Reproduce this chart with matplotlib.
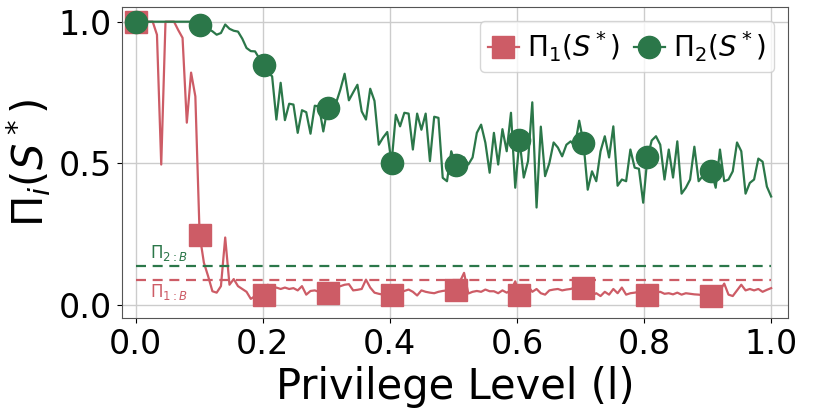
import numpy as np
import matplotlib
matplotlib.use("Agg")
from matplotlib import pyplot as plt

# privilege level grid (150 points) and the two curves
level = np.linspace(0, 1, 150)

pi_1 = [1.0, 1.0, 1.0, 1.0, 1.0, 0.954, 0.495, 1.0, 1.0, 1.0,
        0.97, 0.943, 0.643, 0.82, 0.736, 0.247, 0.148, 0.10, 0.047, 0.042,
        0.065, 0.237, 0.07, 0.09, 0.065, 0.055, 0.045, 0.02, 0.03, 0.035,
        0.035, 0.07, 0.053, 0.06, 0.055, 0.06, 0.055, 0.058, 0.05, 0.065,
        0.035, 0.048, 0.05, 0.045, 0.04, 0.042, 0.05, 0.06, 0.065, 0.07,
        0.072, 0.05, 0.052, 0.055, 0.088, 0.06, 0.042, 0.038, 0.035, 0.036,
        0.035, 0.04, 0.043, 0.048, 0.053, 0.045, 0.032, 0.05, 0.045, 0.042,
        0.04, 0.045, 0.048, 0.05, 0.05, 0.05, 0.08, 0.112, 0.039, 0.045,
        0.048, 0.045, 0.053, 0.047, 0.047, 0.04, 0.05, 0.042, 0.05, 0.082,
        0.035, 0.04, 0.065, 0.045, 0.055, 0.04, 0.035, 0.05, 0.053, 0.055,
        0.05, 0.053, 0.055, 0.06, 0.058, 0.058, 0.03, 0.032, 0.04, 0.03,
        0.045, 0.035, 0.055, 0.04, 0.06, 0.035, 0.04, 0.042, 0.045, 0.04,
        0.032, 0.038, 0.042, 0.045, 0.038, 0.04, 0.036, 0.042, 0.035, 0.04,
        0.038, 0.036, 0.035, 0.033, 0.032, 0.03, 0.045, 0.05, 0.074, 0.035,
        0.03, 0.05, 0.07, 0.05, 0.055, 0.05, 0.055, 0.045, 0.052, 0.058]

pi_2 = [1.0, 1.0, 1.0, 1.0, 1.0, 1.0, 1.0, 1.0, 1.0, 1.0,
        1.0, 1.0, 1.0, 1.0, 1.0, 0.99, 0.985, 0.975, 0.966, 0.954,
        0.96, 0.99, 0.975, 0.968, 0.965, 0.94, 0.907, 0.896, 0.895, 0.87,
        0.848, 0.82, 0.807, 0.654, 0.784, 0.652, 0.71, 0.707, 0.607, 0.687,
        0.68, 0.604, 0.703, 0.70, 0.612, 0.695, 0.70, 0.713, 0.76, 0.816,
        0.722, 0.75, 0.777, 0.683, 0.654, 0.763, 0.72, 0.565, 0.59, 0.61,
        0.50, 0.671, 0.63, 0.678, 0.675, 0.548, 0.675, 0.618, 0.675, 0.507,
        0.664, 0.66, 0.448, 0.436, 0.542, 0.495, 0.51, 0.52, 0.495, 0.52,
        0.607, 0.636, 0.572, 0.466, 0.607, 0.495, 0.62, 0.542, 0.678, 0.413,
        0.583, 0.449, 0.507, 0.715, 0.343, 0.629, 0.454, 0.50, 0.573, 0.555,
        0.524, 0.565, 0.577, 0.56, 0.65, 0.572, 0.406, 0.471, 0.436, 0.542,
        0.595, 0.52, 0.63, 0.42, 0.442, 0.436, 0.548, 0.484, 0.48, 0.36,
        0.52, 0.58, 0.595, 0.565, 0.442, 0.548, 0.449, 0.577, 0.392, 0.413,
        0.442, 0.558, 0.436, 0.455, 0.47, 0.471, 0.413, 0.548, 0.436, 0.442,
        0.471, 0.573, 0.542, 0.392, 0.43, 0.442, 0.516, 0.505, 0.417, 0.382]

# baselines
pi_1b = 0.086
pi_2b = 0.136

red = '#cd5c66'
green = '#2b7749'

fig = plt.figure(figsize=(8.22, 4.11), dpi=100)
ax = fig.add_axes([0.148, 0.226, 0.811, 0.757])

ax.plot(level, pi_1, color=red, lw=1.6, marker='s', markersize=16, markevery=15,
        label=r'$\Pi_1(S^*)$')
ax.plot(level, pi_2, color=green, lw=1.6, marker='o', markersize=16, markevery=15,
        label=r'$\Pi_2(S^*)$')

ax.hlines(pi_2b, 0, 1, colors=green, linestyles=(0, (4.5, 3)), lw=1.6)
ax.hlines(pi_1b, 0, 1, colors=red, linestyles=(0, (4.5, 3)), lw=1.6)
ax.text(0.022, 0.182, r'$\Pi_{2:B}$', color=green, fontsize=12, va='center')
ax.text(0.022, 0.044, r'$\Pi_{1:B}$', color=red, fontsize=12, va='center')

ax.set_xlim(-0.022, 1.027)
ax.set_ylim(-0.048, 1.052)
ax.set_xticks([0.0, 0.2, 0.4, 0.6, 0.8, 1.0])
ax.set_yticks([0.0, 0.5, 1.0])
ax.tick_params(labelsize=24)
ax.grid(True, color='#cccccc', lw=1)
for s in ax.spines.values():
    s.set_color('#555555')

ax.set_xlabel('Privilege Level (l)', fontsize=30)
ax.set_ylabel(r'$\Pi_i(S^*)$', fontsize=30)
ax.legend(loc='upper right', ncol=2, fontsize=20, handlelength=1.1,
          columnspacing=0.5, handletextpad=0.3, borderpad=0.3)

plt.savefig('out.png', dpi=100)
